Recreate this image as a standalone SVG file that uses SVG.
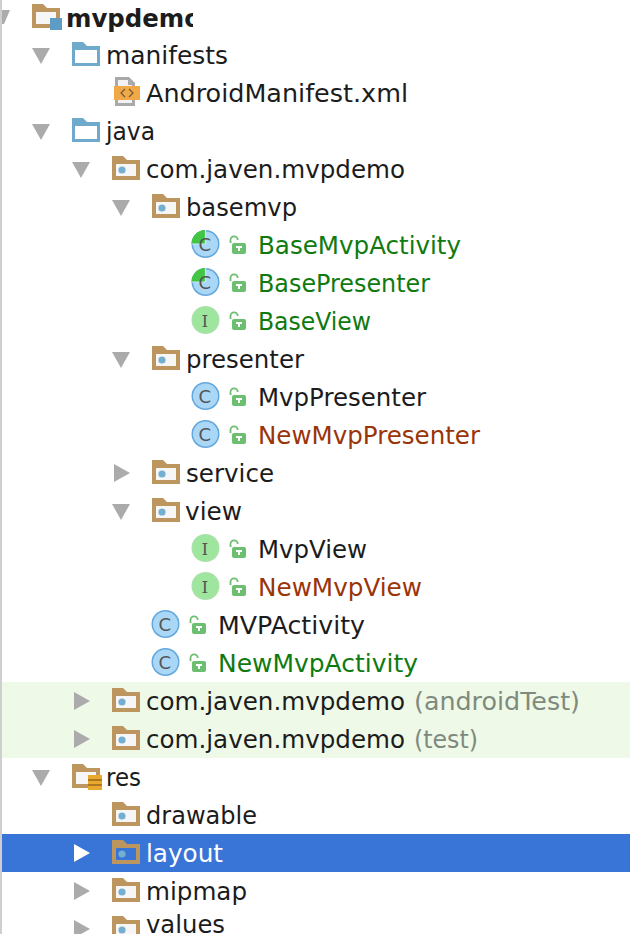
<svg xmlns="http://www.w3.org/2000/svg" width="630" height="934" viewBox="0 0 630 934">
<style>
text{font-family:"DejaVu Sans","Liberation Sans",sans-serif;font-size:24px;fill:#1c1c1c}
.g{fill:#0f7a0f}.r{fill:#9a3409}.m{fill:#7f8a7f}.w{fill:#fff}
.t{fill:#ababab}
</style>
<defs>
<clipPath id="cp"><rect x="60" y="0" width="133" height="40"/></clipPath>
<path id="dn" d="M-9-8H9L0 8Z"/>
<path id="rt" d="M-8-9V9L8 0Z"/>
<g id="folder"><path d="M0 24V0H11L15 4H28V24Z" fill="#bd965f"/><rect x="4" y="8" width="20" height="12" fill="#f6f6f6"/></g>
<g id="pkg"><use href="#folder"/><circle cx="10" cy="14" r="3.6" fill="#74aed0"/></g>
<g id="bf"><path d="M0 24V0H11L15 4H28V24Z" fill="#6fa9cb"/><rect x="3" y="8" width="22" height="13" fill="#fff"/></g>
<g id="lock"><path d="M-5.5-4V-7A3.6 3.6 0 0 1 1.7-7" fill="none" stroke="#6cbf70" stroke-width="1.8"/><rect x="-4" y="-4" width="14" height="11" rx="2" fill="#6cbf70"/><path d="M0-1H6V1H4V4H2V1H0Z" fill="#fff"/></g>
<g id="cls"><circle r="14" fill="#62a8dc"/><circle r="12.5" fill="#abd7f6"/><text x="-7" y="6.5" style="font-size:18px;fill:#555">C</text></g>
<g id="itf"><circle r="14" fill="#a9e2a9"/><circle r="12.5" fill="#9ee59e"/><text x="-4" y="6.5" style="font-family:'DejaVu Serif',serif;font-size:17px;font-weight:normal;fill:#555">I</text></g>
<g id="part"><circle r="14" fill="#62a8dc"/><circle r="12.5" fill="#abd7f6"/><path d="M0-14A14 14 0 0 0-14 0H0Z" fill="#42c542"/><path d="M0-14V0H-14" fill="none" stroke="#cfe6f7" stroke-width="1.2"/><text x="-7" y="6.5" style="font-size:18px;fill:#555">C</text></g>
</defs>
<rect width="630" height="934" fill="#fff"/>
<rect x="0" y="0" width="2" height="934" fill="#cfcfcf"/>
<rect x="2" y="682" width="628" height="76" fill="#eff9e7"/>
<rect x="2" y="834" width="628" height="38" fill="#3875d7"/>
<g id="connectors"/>
<g id="n-mvpdemo"><path class="t" d="M2 10H10L4 24H2Z"/><use href="#folder" x="32" y="4"/><rect x="50" y="18" width="12" height="12" fill="#5d9cc4"/><text x="66" y="27" clip-path="url(#cp)" textLength="135" lengthAdjust="spacingAndGlyphs" style="font-weight:bold">mvpdemo</text></g>
<g id="n-manifests"><use href="#dn" class="t" x="41" y="56"/><use href="#bf" x="72" y="42"/><text x="106" y="64" textLength="122" lengthAdjust="spacingAndGlyphs">manifests</text></g>
<g id="n-manifest-file"><path d="M115 77H129L135 83V106H115Z" fill="#a9a9a9"/><path d="M118 80H128V85H132V103H118Z" fill="#f2f2f2"/><rect x="114" y="86" width="26" height="14" fill="#f1a948"/><path d="M125 89L121 93L125 97M129 89L133 93L129 97" fill="none" stroke="#6d5a3a" stroke-width="1.2"/><text x="146" y="102" textLength="262" lengthAdjust="spacingAndGlyphs">AndroidManifest.xml</text></g>
<g id="n-java"><use href="#dn" class="t" x="41" y="132"/><use href="#bf" x="72" y="118"/><text x="106" y="140" textLength="49" lengthAdjust="spacingAndGlyphs">java</text></g>
<g id="n-pkg"><use href="#dn" class="t" x="81" y="170"/><use href="#pkg" x="112" y="156"/><text x="146" y="178" textLength="259" lengthAdjust="spacingAndGlyphs">com.javen.mvpdemo</text></g>
<g id="n-basemvp"><use href="#dn" class="t" x="121" y="208"/><use href="#pkg" x="152" y="194"/><text x="186" y="216" textLength="111" lengthAdjust="spacingAndGlyphs">basemvp</text></g>
<g id="n-basemvpactivity"><use href="#part" x="205.500" y="244"/><use href="#lock" x="236" y="247"/><text class="g" x="258" y="254" textLength="203" lengthAdjust="spacingAndGlyphs">BaseMvpActivity</text></g>
<g id="n-basepresenter"><use href="#part" x="205.500" y="282"/><use href="#lock" x="236" y="285"/><text class="g" x="258" y="292" textLength="172" lengthAdjust="spacingAndGlyphs">BasePresenter</text></g>
<g id="n-baseview"><use href="#itf" x="205.500" y="320"/><use href="#lock" x="236" y="323"/><text class="g" x="258" y="330" textLength="113" lengthAdjust="spacingAndGlyphs">BaseView</text></g>
<g id="n-presenter"><use href="#dn" class="t" x="121" y="360"/><use href="#pkg" x="152" y="346"/><text x="186" y="368" textLength="118" lengthAdjust="spacingAndGlyphs">presenter</text></g>
<g id="n-mvppresenter"><use href="#cls" x="205.500" y="396"/><use href="#lock" x="236" y="399"/><text x="258" y="406" textLength="168" lengthAdjust="spacingAndGlyphs">MvpPresenter</text></g>
<g id="n-newmvppresenter"><use href="#cls" x="205.500" y="434"/><use href="#lock" x="236" y="437"/><text class="r" x="258" y="444" textLength="222" lengthAdjust="spacingAndGlyphs">NewMvpPresenter</text></g>
<g id="n-service"><use href="#rt" class="t" x="122" y="473"/><use href="#pkg" x="152" y="460"/><text x="186" y="482" textLength="88" lengthAdjust="spacingAndGlyphs">service</text></g>
<g id="n-view"><use href="#dn" class="t" x="121" y="512"/><use href="#pkg" x="152" y="498"/><text x="185" y="520" textLength="57" lengthAdjust="spacingAndGlyphs">view</text></g>
<g id="n-mvpview"><use href="#itf" x="205.500" y="548"/><use href="#lock" x="236" y="551"/><text x="258" y="558" textLength="109" lengthAdjust="spacingAndGlyphs">MvpView</text></g>
<g id="n-newmvpview"><use href="#itf" x="205.500" y="586"/><use href="#lock" x="236" y="589"/><text class="r" x="258" y="596" textLength="164" lengthAdjust="spacingAndGlyphs">NewMvpView</text></g>
<g id="n-mvpactivity"><use href="#cls" x="165.500" y="624"/><use href="#lock" x="196" y="627"/><text x="218" y="634" textLength="147" lengthAdjust="spacingAndGlyphs">MVPActivity</text></g>
<g id="n-newmvpactivity"><use href="#cls" x="165.500" y="662"/><use href="#lock" x="196" y="665"/><text class="g" x="218" y="672" textLength="200" lengthAdjust="spacingAndGlyphs">NewMvpActivity</text></g>
<g id="n-androidtest"><use href="#rt" class="t" x="82" y="701"/><use href="#pkg" x="112" y="688"/><text x="146" y="710" textLength="259" lengthAdjust="spacingAndGlyphs">com.javen.mvpdemo</text><text class="m" x="414" y="710" textLength="166" lengthAdjust="spacingAndGlyphs">(androidTest)</text></g>
<g id="n-test"><use href="#rt" class="t" x="82" y="739"/><use href="#pkg" x="112" y="726"/><text x="146" y="748" textLength="259" lengthAdjust="spacingAndGlyphs">com.javen.mvpdemo</text><text class="m" x="414" y="748" textLength="64" lengthAdjust="spacingAndGlyphs">(test)</text></g>
<g id="n-res"><use href="#dn" class="t" x="41" y="778"/><use href="#folder" x="72" y="764"/><rect x="88" y="775" width="14" height="15" fill="#e8a92e"/><path d="M88 780H102M88 785H102" stroke="#9a6a1a" stroke-width="1.5"/><text x="106" y="786" textLength="35" lengthAdjust="spacingAndGlyphs">res</text></g>
<g id="n-drawable"><use href="#pkg" x="112" y="802"/><text x="146" y="824" textLength="111" lengthAdjust="spacingAndGlyphs">drawable</text></g>
<g id="n-layout"><use href="#rt" style="fill:#fff" x="82" y="853"/><path d="M112 864V840H123L127 844H140V864Z" fill="#bd965f"/><rect x="116" y="848" width="20" height="12" fill="#3875d7"/><circle cx="122" cy="854" r="3.6" fill="#74aed0"/><text class="w" x="146" y="862" textLength="77" lengthAdjust="spacingAndGlyphs">layout</text></g>
<g id="n-mipmap"><use href="#rt" class="t" x="82" y="891"/><use href="#pkg" x="112" y="878"/><text x="146" y="900" textLength="101" lengthAdjust="spacingAndGlyphs">mipmap</text></g>
<g id="n-values"><use href="#rt" class="t" x="82" y="929"/><use href="#pkg" x="112" y="916"/><text x="146" y="933" textLength="79" lengthAdjust="spacingAndGlyphs">values</text></g>
</svg>
